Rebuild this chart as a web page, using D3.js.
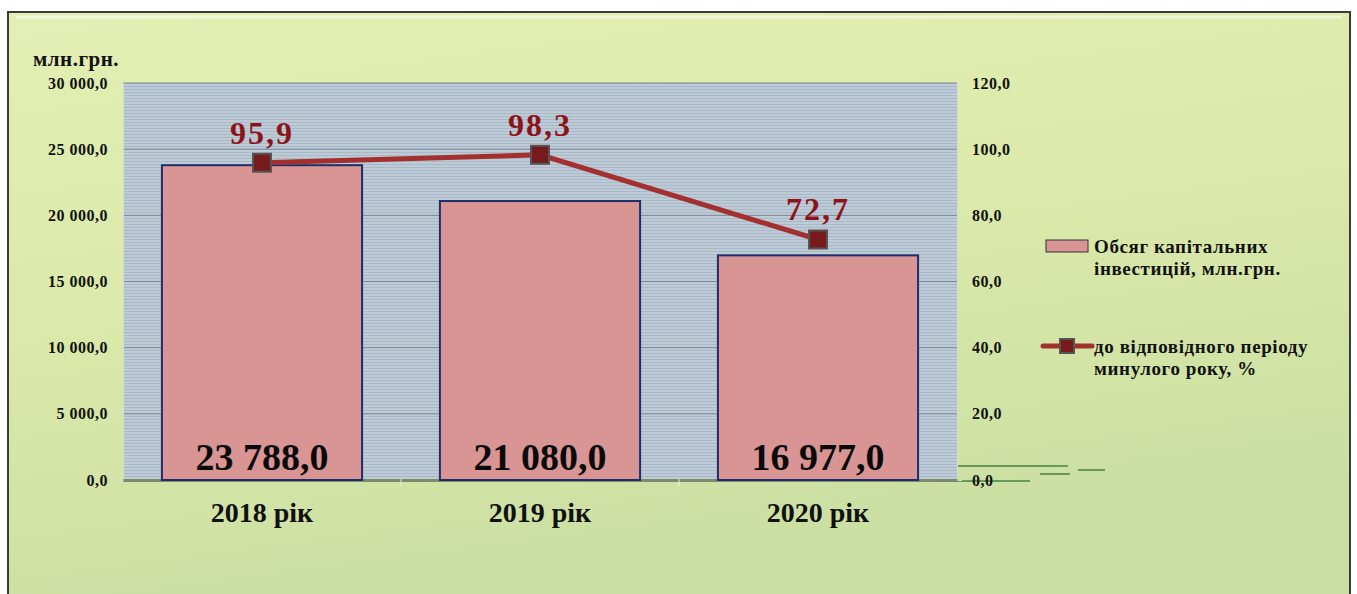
<!DOCTYPE html>
<html>
<head>
<meta charset="utf-8">
<script src="https://cdn.jsdelivr.net/npm/d3@7"></script>
<style>
  body { margin: 0; background: #fff; }
  text { font-family: "Liberation Serif", "Times New Roman", serif; font-weight: bold; }
</style>
</head>
<body>
<div id="chart"></div>
<script>
var years = ["2018 рік", "2019 рік", "2020 рік"];
var invest = [23788.0, 21080.0, 16977.0];
var pct = [95.9, 98.3, 72.7];
var leftTicks = [0, 5000, 10000, 15000, 20000, 25000, 30000];
var rightTicks = [0, 20, 40, 60, 80, 100, 120];
var legendNames = ["Обсяг капітальних|інвестицій,  млн.грн.", "до відповідного періоду|минулого року,  %"];

var W = 1357, H = 594;
var plot = { left: 123, right: 957, top: 83, bottom: 480 };

// number format like "23 788,0"
function fmt(v) {
  var s = v.toFixed(1).split(".");
  var ip = s[0].replace(/\B(?=(\d{3})+(?!\d))/g, " ");
  return ip + "," + s[1];
}

var svg = d3.select("#chart").append("svg")
  .attr("width", W)
  .attr("height", H);

var defs = svg.append("defs");

var bg = defs.append("linearGradient").attr("id", "bg")
  .attr("x1", 0).attr("y1", 0).attr("x2", 0.3).attr("y2", 1);
bg.append("stop").attr("offset", "0%").attr("stop-color", "#e3efb4");
bg.append("stop").attr("offset", "50%").attr("stop-color", "#dbe9aa");
bg.append("stop").attr("offset", "100%").attr("stop-color", "#cbdfa2");

var stripes = defs.append("pattern").attr("id", "stripes")
  .attr("patternUnits", "userSpaceOnUse")
  .attr("width", 10).attr("height", 3);
stripes.append("rect").attr("width", 10).attr("height", 3).attr("fill", "#bdcbd7");
stripes.append("rect").attr("y", 2).attr("width", 10).attr("height", 1).attr("fill", "#aab9c7");

// frame
svg.append("rect")
  .attr("x", 8).attr("y", 12)
  .attr("width", 1342).attr("height", 590)
  .attr("fill", "url(#bg)")
  .attr("stroke", "#3a3a3a")
  .attr("stroke-width", 2);
svg.append("line")
  .attr("x1", 16).attr("x2", 1342).attr("y1", 17).attr("y2", 17)
  .attr("stroke", "#f4f8e4").attr("stroke-width", 3).attr("opacity", 0.8);

// decorative green strokes near bottom right
var deco = [[957, 1068, 466], [957, 1030, 481], [1040, 1070, 474], [1078, 1105, 470]];
svg.append("g")
  .selectAll("line")
  .data(deco)
  .enter()
  .append("line")
  .attr("x1", function(d) { return d[0]; })
  .attr("x2", function(d) { return d[1]; })
  .attr("y1", function(d) { return d[2]; })
  .attr("y2", function(d) { return d[2]; })
  .attr("stroke", "#4f8a4a").attr("stroke-width", 2).attr("opacity", 0.8);

var x = d3.scaleBand()
  .domain(years)
  .range([plot.left, plot.right])
  .padding(0);
var barW = x.bandwidth() * 0.72;

var yL = d3.scaleLinear().domain([0, 30000]).range([plot.bottom, plot.top]);
var yR = d3.scaleLinear().domain([0, 120]).range([plot.bottom, plot.top]);

// plot area
svg.append("rect")
  .attr("x", plot.left).attr("y", plot.top)
  .attr("width", plot.right - plot.left)
  .attr("height", plot.bottom - plot.top)
  .attr("fill", "url(#stripes)");

// grid
svg.append("g")
  .selectAll("line")
  .data(leftTicks)
  .enter()
  .append("line")
  .attr("x1", plot.left).attr("x2", plot.right)
  .attr("y1", function(d) { return yL(d); })
  .attr("y2", function(d) { return yL(d); })
  .attr("stroke", "#7d8a96")
  .attr("stroke-width", 1);

// left axis
var axL = svg.append("g")
  .attr("transform", "translate(" + plot.left + ",0)")
  .call(d3.axisLeft(yL).tickValues(leftTicks).tickSize(5).tickPadding(10).tickFormat(fmt));
axL.select(".domain").attr("stroke", "#d8dccc");
axL.selectAll(".tick line").attr("stroke", "#d8dccc");
axL.selectAll("text").attr("font-size", 16).attr("fill", "#111")
  .attr("letter-spacing", 0.5)
  .style("font-family", "Liberation Serif").style("font-weight", "bold");

// right axis
var axR = svg.append("g")
  .attr("transform", "translate(" + plot.right + ",0)")
  .call(d3.axisRight(yR).tickValues(rightTicks).tickSize(5).tickPadding(10).tickFormat(fmt));
axR.select(".domain").attr("stroke", "#d8dccc");
axR.selectAll(".tick line").attr("stroke", "#d8dccc");
axR.selectAll("text").attr("font-size", 16).attr("fill", "#111")
  .attr("letter-spacing", 0.5)
  .style("font-family", "Liberation Serif").style("font-weight", "bold");

// bottom axis
var axB = svg.append("g")
  .attr("transform", "translate(0," + plot.bottom + ")")
  .call(d3.axisBottom(x).tickSize(0).tickPadding(22));
axB.select(".domain").attr("stroke", "#7f8a6a").attr("stroke-width", 3);
axB.selectAll("text").attr("font-size", 28).attr("fill", "#111")
  .style("font-family", "Liberation Serif").style("font-weight", "bold");
svg.append("g")
  .selectAll("line")
  .data(years.slice(1))
  .enter()
  .append("line")
  .attr("x1", function(d) { return x(d); })
  .attr("x2", function(d) { return x(d); })
  .attr("y1", plot.bottom - 1).attr("y2", plot.bottom + 6)
  .attr("stroke", "#eef2e0").attr("stroke-width", 1);

svg.append("text")
  .attr("x", 33).attr("y", 66)
  .attr("font-size", 21)
  .attr("letter-spacing", 0.5)
  .attr("fill", "#111")
  .text("млн.грн.");

// bars
svg.append("g")
  .selectAll("rect")
  .data(invest)
  .enter()
  .append("rect")
  .attr("x", function(d, i) { return x(years[i]) + (x.bandwidth() - barW) / 2; })
  .attr("y", function(d) { return yL(d); })
  .attr("width", barW)
  .attr("height", function(d) { return plot.bottom - yL(d); })
  .attr("fill", "#d99594")
  .attr("stroke", "#1f2d6a")
  .attr("stroke-width", 2);

svg.append("g")
  .selectAll("text")
  .data(invest)
  .enter()
  .append("text")
  .attr("x", function(d, i) { return x(years[i]) + x.bandwidth() / 2; })
  .attr("y", plot.bottom - 10)
  .attr("text-anchor", "middle")
  .attr("font-size", 38)
  .attr("fill", "#0a0a0a")
  .text(function(d) { return fmt(d); });

// line
var line = d3.line()
  .x(function(d, i) { return x(years[i]) + x.bandwidth() / 2; })
  .y(function(d) { return yR(d); });

svg.append("path")
  .datum(pct)
  .attr("d", line)
  .attr("fill", "none")
  .attr("stroke", "#a3302f")
  .attr("stroke-width", 5);

svg.append("g")
  .selectAll("rect")
  .data(pct)
  .enter()
  .append("rect")
  .attr("x", function(d, i) { return x(years[i]) + x.bandwidth() / 2 - 9; })
  .attr("y", function(d) { return yR(d) - 9; })
  .attr("width", 18)
  .attr("height", 18)
  .attr("fill", "#761a1b")
  .attr("stroke", "#555")
  .attr("stroke-width", 2);

svg.append("g")
  .selectAll("text")
  .data(pct)
  .enter()
  .append("text")
  .attr("x", function(d, i) { return x(years[i]) + x.bandwidth() / 2; })
  .attr("y", function(d) { return yR(d) - 19; })
  .attr("text-anchor", "middle")
  .attr("font-size", 32)
  .attr("letter-spacing", 2)
  .attr("fill", "#8c1419")
  .text(function(d) { return fmt(d); });

// legend
var lg = svg.append("g").attr("transform", "translate(1046,0)");
lg.append("rect")
  .attr("x", 0).attr("y", 240)
  .attr("width", 42).attr("height", 12)
  .attr("fill", "#d99594")
  .attr("stroke", "#333").attr("stroke-width", 1);
lg.append("line")
  .attr("x1", -3).attr("x2", 46).attr("y1", 346).attr("y2", 346)
  .attr("stroke", "#a3302f").attr("stroke-width", 5)
  .attr("stroke-linecap", "round");
lg.append("rect")
  .attr("x", 14).attr("y", 339)
  .attr("width", 14).attr("height", 14)
  .attr("fill", "#761a1b")
  .attr("stroke", "#555").attr("stroke-width", 2);

var legendY = [253, 353];
legendNames.forEach(function(name, i) {
  var t = lg.append("text")
    .attr("x", 48).attr("y", legendY[i])
    .attr("font-size", 19)
    .attr("letter-spacing", 0.6)
    .attr("fill", "#111");
  name.split("|").forEach(function(part, j) {
    t.append("tspan")
      .attr("x", 48)
      .attr("dy", j === 0 ? 0 : 22)
      .text(part);
  });
});
</script>
</body>
</html>
